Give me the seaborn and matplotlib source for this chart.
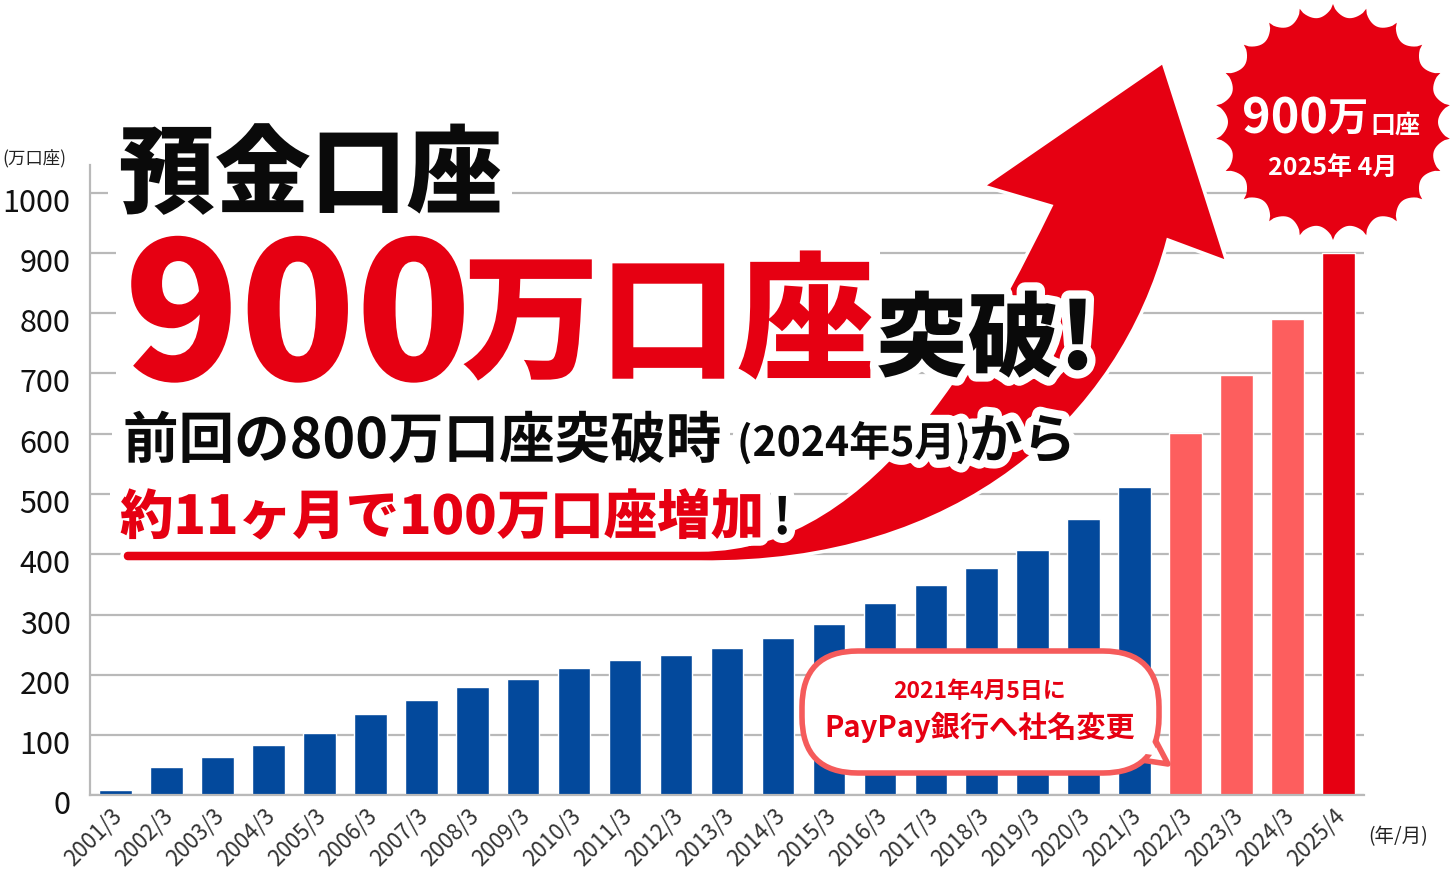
import numpy as np
import pandas as pd
import matplotlib
matplotlib.use('Agg')
import matplotlib.pyplot as plt
import seaborn as sns
import matplotlib.patheffects as pe
from matplotlib.patches import Polygon, FancyBboxPatch, PathPatch, Rectangle
from matplotlib.path import Path
from matplotlib.transforms import ScaledTranslation

# ------------------------------------------------------------------
# data (万口座)
# ------------------------------------------------------------------
periods = ['2001/3', '2002/3', '2003/3', '2004/3', '2005/3', '2006/3',
           '2007/3', '2008/3', '2009/3', '2010/3', '2011/3', '2012/3',
           '2013/3', '2014/3', '2015/3', '2016/3', '2017/3', '2018/3',
           '2019/3', '2020/3', '2021/3', '2022/3', '2023/3', '2024/3',
           '2025/4']
accounts = [8, 47, 64, 83, 104, 135, 158, 180, 193, 212, 224, 233,
            245, 261, 285, 319, 349, 377, 407, 458, 512, 602, 697, 790,
            900]
y_ticks = list(range(0, 1001, 100))

BLUE = '#03499c'
PINK = '#fd5e5e'
RED = '#e60012'
bar_colors = [BLUE] * 21 + [PINK] * 3 + [RED]

df = pd.DataFrame({'period': periods, 'accounts': accounts})

# ------------------------------------------------------------------
# figure
# ------------------------------------------------------------------
W, H = 1452, 880
sns.set_style('white')
plt.rcParams['font.family'] = ['Noto Sans CJK JP', 'DejaVu Sans']

fig = plt.figure(figsize=(W / 100, H / 100), dpi=100)

base_y, top_y = 795.3, 165.0
px_per_unit = 0.6026
ax = fig.add_axes([90 / W, (H - base_y) / H, 1274 / W, (base_y - top_y) / H])

sns.barplot(data=df, x='period', y='accounts', hue='period', order=periods,
            palette=bar_colors, saturation=1, width=0.64, legend=False, ax=ax)

ax.set_xlim(-0.5, len(periods) - 0.5)
ax.set_ylim(0, (base_y - top_y) / px_per_unit)
ax.set_yticks(y_ticks)
ax.set_yticklabels([str(v) for v in y_ticks])
ax.set_xlabel('')
ax.set_ylabel('')

grid_c = '#b9b9b9'
ax.grid(axis='y', color=grid_c, lw=1.6)
ax.set_axisbelow(True)
for s in ['top', 'right']:
    ax.spines[s].set_visible(False)
for s in ['left', 'bottom']:
    ax.spines[s].set_color(grid_c)
    ax.spines[s].set_linewidth(1.6)

ax.tick_params(axis='y', length=0, labelsize=22, labelcolor='#111111', pad=14)
ax.tick_params(axis='x', length=0, labelsize=16, labelcolor='#333333', pad=12)
for lab in ax.get_yticklabels():
    lab.set_transform(lab.get_transform() + ScaledTranslation(0, -0.07, fig.dpi_scale_trans))
for lab in ax.get_xticklabels():
    lab.set_rotation(45)
    lab.set_ha('right')
    lab.set_va('center')
    lab.set_rotation_mode('anchor')
    lab.set_transform(lab.get_transform() + ScaledTranslation(0.03, 0, fig.dpi_scale_trans))

# ------------------------------------------------------------------
# overlay in pixel coordinates for the decorations
# ------------------------------------------------------------------
ov = fig.add_axes([0, 0, 1, 1], zorder=5)
ov.set_xlim(0, W)
ov.set_ylim(H, 0)
ov.axis('off')
ov.patch.set_visible(False)

# white panels behind the headline lines (they hide the grid)
for x0, y0, x1, y1 in [(108, 124, 512, 224), (116, 236, 880, 388),
                       (112, 404, 730, 470), (110, 484, 770, 546)]:
    ov.add_patch(Rectangle((x0, y0), x1 - x0, y1 - y0, facecolor='white',
                           edgecolor='none', zorder=0.5))

# red swoosh + arrow head (rounded cap on the left)
verts = [(128, 550), (700, 550),
         (880, 550), (990, 330), (1051, 206),
         (983, 186), (1163, 62), (1227, 262), (1168, 240),
         (1120, 420), (960, 565), (700, 562),
         (128, 562),
         (120, 562), (120, 550), (128, 550),
         (128, 550)]
codes = [Path.MOVETO, Path.LINETO,
         Path.CURVE4, Path.CURVE4, Path.CURVE4,
         Path.LINETO, Path.LINETO, Path.LINETO, Path.LINETO,
         Path.CURVE4, Path.CURVE4, Path.CURVE4,
         Path.LINETO,
         Path.CURVE4, Path.CURVE4, Path.CURVE4,
         Path.CLOSEPOLY]
ov.add_patch(PathPatch(Path(verts, codes), facecolor=RED, edgecolor='white',
                       lw=2.5, zorder=1))

# scalloped badge
cx, cy, R, depth, n = 1333, 122, 118, 13, 22
pts = []
for i in range(n):
    t = np.linspace(0, 1, 16, endpoint=False)
    ang = -np.pi / 2 + (i + t) * 2 * np.pi / n
    r = R - depth * np.sin(np.pi * t) ** 0.6
    pts += list(zip(cx + r * np.cos(ang), cy + r * np.sin(ang)))
ov.add_patch(Polygon(pts, closed=True, facecolor=RED, edgecolor='none', zorder=1))
ov.text(1242, 133, '900', color='white', fontsize=35, fontweight='bold',
        ha='left', va='baseline', zorder=6)
ov.text(1327, 131, '万', color='white', fontsize=29, fontweight='bold',
        ha='left', va='baseline', zorder=6)
ov.text(1370, 133, '口座', color='white', fontsize=18, fontweight='bold',
        ha='left', va='baseline', zorder=6)
ov.text(1333, 168, '2025年 4月', color='white', fontsize=18, fontweight='bold',
        ha='center', va='center', zorder=6)

# speech bubble
bub_c = '#f55b5b'
ov.add_patch(Polygon([(1150, 730), (1168, 764), (1128, 758)], closed=True,
                     facecolor='white', edgecolor=bub_c, lw=4, zorder=3,
                     joinstyle='round'))
ov.add_patch(FancyBboxPatch((802, 651), 357, 122,
                            boxstyle='round,pad=0,rounding_size=56',
                            facecolor='white', edgecolor=bub_c, lw=4, zorder=3.1))
ov.add_patch(Polygon([(1148, 734), (1160, 756), (1132, 752)], closed=True,
                     facecolor='white', edgecolor='none', zorder=3.2))
ov.text(980, 691, '2021年4月5日に', color=RED, fontsize=16.5, fontweight='bold',
        ha='center', va='center', zorder=6)
ov.text(980, 727, 'PayPay銀行へ社名変更', color=RED, fontsize=21, fontweight='bold',
        ha='center', va='center', zorder=6)

# headline texts
halo = [pe.withStroke(linewidth=12, foreground='white')]
ov.text(119, 177, '預金口座', color='#0a0a0a', fontsize=69, fontweight='heavy',
        ha='left', va='center', path_effects=halo, zorder=6)
ov.text(124, 380, '900', color=RED, fontsize=137, fontweight='heavy',
        ha='left', va='baseline', path_effects=halo, zorder=6)
ov.text(462, 368, '万口座', color=RED, fontsize=99, fontweight='heavy',
        ha='left', va='baseline', path_effects=halo, zorder=6)
ov.text(876, 369, '突破!', color='#0a0a0a', fontsize=66, fontweight='heavy',
        ha='left', va='baseline', path_effects=halo, zorder=6)
ov.text(123, 458, '前回の800万口座突破時', color='#0a0a0a', fontsize=40,
        fontweight='bold', ha='left', va='baseline', path_effects=halo, zorder=6)
ov.text(737, 456, '(2024年5月)', color='#0a0a0a', fontsize=29.5,
        fontweight='bold', ha='left', va='baseline', path_effects=halo, zorder=6)
ov.text(969, 458, 'から', color='#0a0a0a', fontsize=38.5,
        fontweight='bold', ha='left', va='baseline', path_effects=halo, zorder=6)
ov.text(120, 534, '約11ヶ月で100万口座増加', color=RED, fontsize=38.5,
        fontweight='heavy', ha='left', va='baseline', path_effects=halo, zorder=6)
ov.text(773, 534, '!', color='#0a0a0a', fontsize=36,
        fontweight='bold', ha='left', va='baseline', path_effects=halo, zorder=6)

# axis unit labels
ov.text(2, 158, '(万口座)', color='#222222', fontsize=12.5, ha='left', va='center')
ov.text(1398, 837, '(年/月)', color='#222222', fontsize=14, ha='center', va='center')

fig.savefig('out.png', dpi=100)
